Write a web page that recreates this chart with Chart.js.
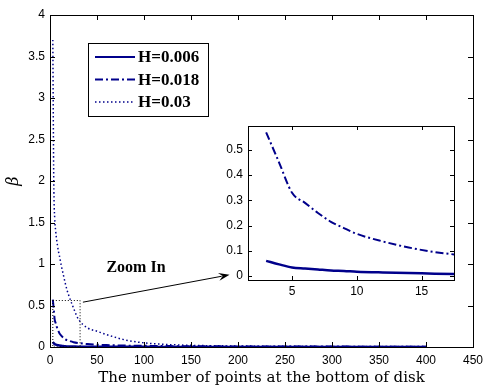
<!DOCTYPE html>
<html>
<head>
  <meta charset="UTF-8">
  <title>beta vs number of points</title>
  <script src="https://cdn.jsdelivr.net/npm/chart.js"></script>
  <style>
    body { margin: 0; background: #fff; }
    .wrap { position: relative; width: 484px; height: 389px; }
    #mainChart { position: absolute; left: 0; top: 0; }
    #insetChart { position: absolute; left: 200px; top: 110px; }
  </style>
</head>
<body>
<div class="wrap">
  <canvas id="mainChart" width="484" height="389"></canvas>
  <canvas id="insetChart" width="270" height="195"></canvas>
</div>
<script>
  // values
  const points = [3, 4, 5, 6, 7, 8, 9, 10, 12, 14, 16, 18, 20, 25, 30, 40, 50, 60, 80, 100, 125, 150, 200, 250, 300, 350, 400];
  const h006 = [0.060, 0.046, 0.034, 0.030, 0.026, 0.022, 0.020, 0.017, 0.014, 0.012, 0.009, 0.007, 0.006, 0.005, 0.004, 0.003, 0.003, 0.002, 0.002, 0.002, 0.001, 0.001, 0.001, 0.001, 0.001, 0.001, 0.001];
  const h018 = [0.57, 0.45, 0.33, 0.29, 0.25, 0.215, 0.19, 0.167, 0.137, 0.113, 0.095, 0.083, 0.075, 0.058, 0.048, 0.035, 0.028, 0.023, 0.017, 0.014, 0.011, 0.009, 0.007, 0.006, 0.005, 0.004, 0.004];
  const h030 = [3.7, 2.0, 1.55, 1.4, 1.3, 1.22, 1.15, 1.1, 0.98, 0.88, 0.78, 0.69, 0.62, 0.47, 0.34, 0.23, 0.19, 0.15, 0.085, 0.05, 0.03, 0.02, 0.012, 0.009, 0.007, 0.006, 0.005];
  const seriesLabels = ['H=0.006', 'H=0.018', 'H=0.03'];

  const mainXTicks = [0, 50, 100, 150, 200, 250, 300, 350, 400, 450];
  const mainYTicks = [0, 0.5, 1, 1.5, 2, 2.5, 3, 3.5, 4];
  const insetXTicks = [5, 10, 15];
  const insetYTicks = [0, 0.1, 0.2, 0.3, 0.4, 0.5];

  const lineColor = '#00008b';
  const styles = [
    { borderWidth: 2.5, borderDash: [] },
    { borderWidth: 2, borderDash: [8, 3, 2, 3] },
    { borderWidth: 1.5, borderDash: [1.5, 2.5] }
  ];

  function makeDatasets() {
    return [h006, h018, h030].map((vals, i) => ({
      label: seriesLabels[i],
      data: points.map((x, j) => ({ x: x, y: vals[j] })),
      borderColor: lineColor,
      backgroundColor: lineColor,
      borderWidth: styles[i].borderWidth,
      borderDash: styles[i].borderDash,
      pointRadius: 0,
      cubicInterpolationMode: 'monotone',
      fill: false
    }));
  }

  const tickFont = { family: 'Liberation Sans', size: 12 };
  const plainNum = v => String(Number(v.toFixed(3)));

  // white plot area, black box and inward tick marks (matlab look)
  const framePlugin = {
    id: 'frame',
    beforeDraw(chart) {
      const a = chart.chartArea, ctx = chart.ctx;
      ctx.save();
      ctx.fillStyle = '#fff';
      ctx.fillRect(a.left, a.top, a.right - a.left, a.bottom - a.top);
      ctx.restore();
    },
    afterDatasetsDraw(chart, args, opts) {
      const a = chart.chartArea, ctx = chart.ctx, len = opts.tick || 5;
      ctx.save();
      ctx.strokeStyle = '#000';
      ctx.lineWidth = 1;
      ctx.beginPath();
      chart.scales.x.ticks.forEach(t => {
        const px = Math.round(chart.scales.x.getPixelForValue(t.value)) + 0.5;
        ctx.moveTo(px, a.bottom); ctx.lineTo(px, a.bottom - len);
        ctx.moveTo(px, a.top); ctx.lineTo(px, a.top + len);
      });
      chart.scales.y.ticks.forEach(t => {
        const py = Math.round(chart.scales.y.getPixelForValue(t.value)) + 0.5;
        ctx.moveTo(a.left, py); ctx.lineTo(a.left + len, py);
        ctx.moveTo(a.right, py); ctx.lineTo(a.right - len, py);
      });
      ctx.stroke();
      ctx.strokeRect(Math.round(a.left) + 0.5, Math.round(a.top) + 0.5,
        Math.round(a.right - a.left), Math.round(a.bottom - a.top));
      ctx.restore();
    }
  };

  // legend box, dotted zoom rectangle, arrow and "Zoom In" label on the main axes
  const zoomBox = { x0: 3, x1: 32, y0: 0, y1: 0.56 };
  const arrowFrom = { x: 35, y: 0.54 };
  const arrowTo = { x: 191, y: 0.87 };
  const zoomText = { x: 60, y: 0.9, text: 'Zoom In' };

  const notesPlugin = {
    id: 'notes',
    afterDraw(chart) {
      const ctx = chart.ctx, xs = chart.scales.x, ys = chart.scales.y, a = chart.chartArea;
      ctx.save();
      // dotted rectangle
      ctx.strokeStyle = '#000';
      ctx.lineWidth = 1;
      ctx.setLineDash([1, 2]);
      ctx.strokeRect(xs.getPixelForValue(zoomBox.x0), ys.getPixelForValue(zoomBox.y1),
        xs.getPixelForValue(zoomBox.x1) - xs.getPixelForValue(zoomBox.x0),
        ys.getPixelForValue(zoomBox.y0) - ys.getPixelForValue(zoomBox.y1));
      ctx.setLineDash([]);
      // arrow
      const x0 = xs.getPixelForValue(arrowFrom.x), y0 = ys.getPixelForValue(arrowFrom.y);
      const x1 = xs.getPixelForValue(arrowTo.x), y1 = ys.getPixelForValue(arrowTo.y);
      const ang = Math.atan2(y1 - y0, x1 - x0);
      ctx.beginPath();
      ctx.moveTo(x0, y0); ctx.lineTo(x1 - 8 * Math.cos(ang), y1 - 8 * Math.sin(ang));
      ctx.stroke();
      ctx.beginPath();
      ctx.moveTo(x1, y1);
      ctx.lineTo(x1 - 11 * Math.cos(ang) + 4 * Math.sin(ang), y1 - 11 * Math.sin(ang) - 4 * Math.cos(ang));
      ctx.lineTo(x1 - 7 * Math.cos(ang), y1 - 7 * Math.sin(ang));
      ctx.lineTo(x1 - 11 * Math.cos(ang) - 4 * Math.sin(ang), y1 - 11 * Math.sin(ang) + 4 * Math.cos(ang));
      ctx.closePath();
      ctx.fillStyle = '#000';
      ctx.fill();
      // label
      ctx.font = 'bold 16px "Liberation Serif"';
      ctx.textAlign = 'left';
      ctx.textBaseline = 'alphabetic';
      ctx.fillText(zoomText.text, xs.getPixelForValue(zoomText.x), ys.getPixelForValue(zoomText.y));

      // legend
      const bx = a.left + 38, by = a.top + 28, bw = 120, bh = 73;
      ctx.fillStyle = '#fff';
      ctx.fillRect(bx, by, bw, bh);
      ctx.strokeStyle = '#000';
      ctx.strokeRect(bx + 0.5, by + 0.5, bw, bh);
      ctx.font = 'bold 17px "Liberation Serif"';
      ctx.textBaseline = 'middle';
      chart.data.datasets.forEach((ds, i) => {
        const ry = by + 14 + i * 22.5;
        ctx.strokeStyle = ds.borderColor;
        ctx.lineWidth = Math.min(ds.borderWidth, 2);
        ctx.setLineDash(ds.borderDash);
        ctx.beginPath();
        ctx.moveTo(bx + 7, ry); ctx.lineTo(bx + 47, ry);
        ctx.stroke();
        ctx.setLineDash([]);
        ctx.fillStyle = '#000';
        ctx.fillText(ds.label, bx + 50, ry + 1);
      });
      ctx.restore();
    }
  };

  new Chart(document.getElementById('mainChart'), {
    type: 'line',
    data: { datasets: makeDatasets() },
    plugins: [framePlugin, notesPlugin],
    options: {
      responsive: false,
      animation: false,
      layout: { padding: { left: 0, top: 15, right: 11, bottom: 0 } },
      plugins: { legend: { display: false }, tooltip: { enabled: false }, frame: { tick: 5 } },
      scales: {
        x: {
          type: 'linear', min: 0, max: 450,
          afterBuildTicks: s => { s.ticks = mainXTicks.map(v => ({ value: v })); },
          afterFit: s => { s.height = 42; s.paddingLeft = 0; s.paddingRight = 0; },
          grid: { display: false, drawTicks: false },
          border: { display: false },
          ticks: { color: '#000', font: tickFont, padding: 6, maxRotation: 0, autoSkip: false, callback: plainNum },
          title: {
            display: true, text: 'The number of points at the bottom of disk', color: '#000',
            font: { family: 'DejaVu Serif', size: 15 }, padding: { top: 0, bottom: 2 }
          }
        },
        y: {
          type: 'linear', min: 0, max: 4,
          afterBuildTicks: s => { s.ticks = mainYTicks.map(v => ({ value: v })); },
          afterFit: s => { s.width = 50; s.paddingTop = 0; s.paddingBottom = 0; },
          grid: { display: false, drawTicks: false },
          border: { display: false },
          ticks: { color: '#000', font: tickFont, padding: 5, autoSkip: false, callback: plainNum },
          title: {
            display: true, text: 'β', color: '#000',
            font: { family: 'DejaVu Serif', size: 16, style: 'italic' }, padding: { top: 4, bottom: 0 }
          }
        }
      }
    }
  });

  new Chart(document.getElementById('insetChart'), {
    type: 'line',
    data: { datasets: makeDatasets() },
    plugins: [framePlugin],
    options: {
      responsive: false,
      animation: false,
      layout: { padding: { left: 0, top: 16, right: 16, bottom: 0 } },
      plugins: { legend: { display: false }, tooltip: { enabled: false }, frame: { tick: 4 } },
      scales: {
        x: {
          type: 'linear', min: 1.6, max: 17.5,
          afterBuildTicks: s => { s.ticks = insetXTicks.map(v => ({ value: v })); },
          afterFit: s => { s.height = 25; s.paddingLeft = 0; s.paddingRight = 0; },
          grid: { display: false, drawTicks: false },
          border: { display: false },
          ticks: { color: '#000', font: tickFont, padding: 4, maxRotation: 0, autoSkip: false, callback: plainNum }
        },
        y: {
          type: 'linear', min: -0.016, max: 0.595,
          afterBuildTicks: s => { s.ticks = insetYTicks.map(v => ({ value: v })); },
          afterFit: s => { s.width = 48; s.paddingTop = 0; s.paddingBottom = 0; },
          grid: { display: false, drawTicks: false },
          border: { display: false },
          ticks: { color: '#000', font: tickFont, padding: 5, autoSkip: false, callback: plainNum }
        }
      }
    }
  });
</script>
</body>
</html>
